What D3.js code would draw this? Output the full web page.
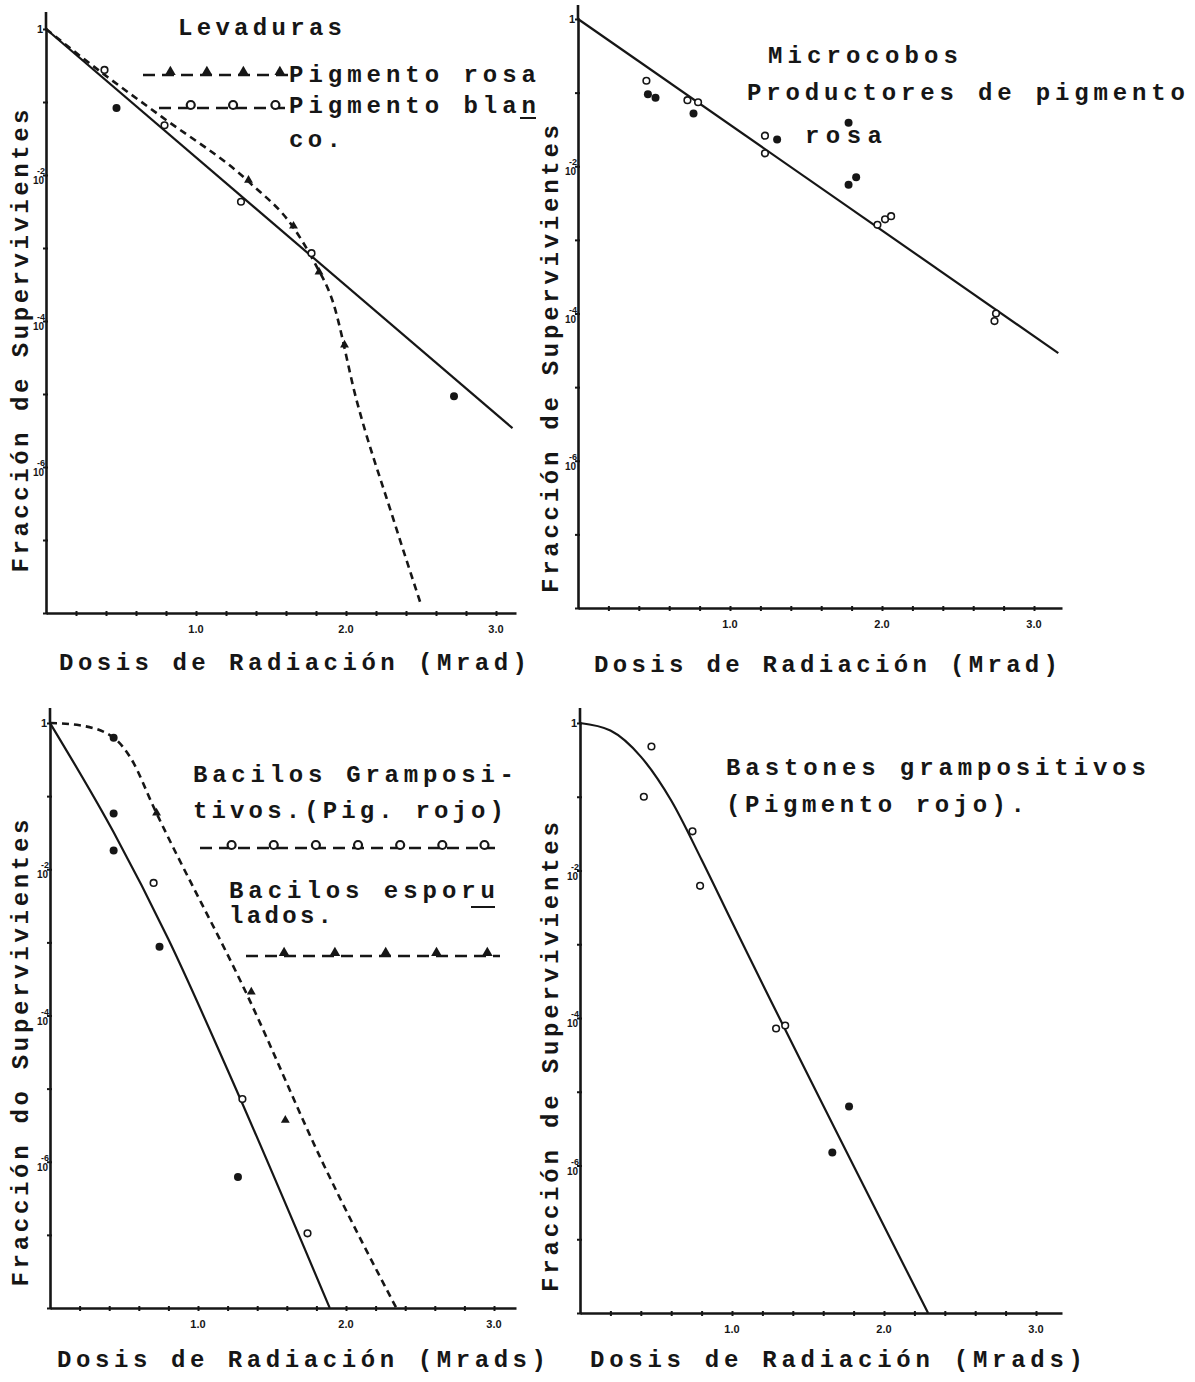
<!DOCTYPE html>
<html>
<head>
<meta charset="utf-8">
<script src="https://cdn.jsdelivr.net/npm/d3@7"></script>
<style>
  body { margin: 0; background: #fff; }
  text { fill: #161616; }
  .lbl { font-family: "Liberation Mono", monospace; font-weight: bold; }
  .tick-lbl { font-family: "Liberation Sans", Arial, sans-serif; font-weight: bold; }
</style>
</head>
<body>
<svg id="chart" width="1195" height="1382"></svg>
<script>
// ---------- data: [dose (Mrad), surviving fraction] ----------
// Levaduras
const levRosaCurve = [[0, 1], [0.41, 0.22], [0.77, 0.063], [1.36, 0.0078], [1.65, 0.0019], [1.79, 6.3e-4], [1.91, 1.9e-4], [2.07, 8.3e-6], [2.31, 2.1e-7], [2.5, 1.3e-8]];
const levBlancoFit = [[0, 1], [3.11, 3.4e-6]];
const levRosaPts = [[1.35, 0.0085], [1.65, 0.002], [1.82, 4.7e-4], [1.99, 4.7e-5]];
const levBlancoOpen = [[0.39, 0.275], [0.79, 0.048], [1.30, 0.0043], [1.77, 8.5e-4]];
const levBlancoFilled = [[0.47, 0.083], [2.72, 9.3e-6]];

// Micrococos
const micFit = [[0, 1], [3.16, 2.9e-5]];
const micOpen = [[0.45, 0.145], [0.72, 0.079], [0.79, 0.074], [1.23, 0.026], [1.23, 0.015], [1.97, 0.0016], [2.02, 0.0019], [2.06, 0.0021], [2.75, 1.0e-4], [2.74, 7.9e-5]];
const micFilled = [[0.46, 0.095], [0.51, 0.085], [0.76, 0.052], [1.31, 0.023], [1.78, 0.039], [1.83, 0.0071], [1.78, 0.0056]];

// Bacilos
const bacGramFit = [[0, 1], [0.43, 0.032], [0.8, 0.0011], [1.2, 1.8e-5], [1.89, 1e-8]];
const bacEspCurve = [[0, 1], [0.2, 0.93], [0.43, 0.63], [0.55, 0.32], [0.7, 0.071], [1.35, 1.6e-4], [1.83, 1.1e-6], [2.34, 1e-8]];
const bacGramFilled = [[0.43, 0.63], [0.43, 0.058], [0.43, 0.018], [0.74, 8.7e-4], [1.27, 6.2e-7]];
const bacGramOpen = [[0.70, 0.0065], [1.30, 7.2e-6], [1.74, 1.05e-7]];
const bacEspPts = [[0.72, 0.059], [1.36, 2.1e-4], [1.59, 3.7e-6]];

// Bastones grampositivos
const basCurve = [[0, 1], [0.2, 0.79], [0.4, 0.35], [0.6, 0.089], [0.8, 0.014], [1.0, 0.002], [2.29, 1e-8]];
const basOpen = [[0.47, 0.48], [0.42, 0.1], [0.74, 0.034], [0.79, 0.0062], [1.29, 7.2e-5], [1.35, 7.9e-5]];
const basFilled = [[1.77, 6.3e-6], [1.66, 1.5e-6]];

// ticks
const xTickValues = [0.2, 0.4, 0.6, 0.8, 1.0, 1.2, 1.4, 1.6, 1.8, 2.0, 2.2, 2.4, 2.6, 2.8, 3.0];
const xTickLabels = [1.0, 2.0, 3.0];
const yTickValues = [1, 1e-1, 1e-2, 1e-3, 1e-4, 1e-5, 1e-6, 1e-7, 1e-8];
const yTickLabels = [[1, ""], [1e-2, "-2"], [1e-4, "-4"], [1e-6, "-6"]];

const ink = "#161616";
const svg = d3.select("#chart");

// panel layout (pixels)
const panels = [
  { x0: 46, unit: 150, yTop: 29, yBot: 613, xEnd: 516, axisTop: 12,
    lines: [{ data: levBlancoFit, dash: null }, { data: levRosaCurve, dash: "7,5", curve: true }],
    open: levBlancoOpen, filled: levBlancoFilled, tri: levRosaPts },
  { x0: 578, unit: 152, yTop: 19, yBot: 608, xEnd: 1062, axisTop: 5,
    lines: [{ data: micFit, dash: null }],
    open: micOpen, filled: micFilled, tri: [] },
  { x0: 50, unit: 148, yTop: 723, yBot: 1308, xEnd: 516, axisTop: 708,
    lines: [{ data: bacGramFit, dash: null, curve: true }, { data: bacEspCurve, dash: "7,5", curve: true }],
    open: bacGramOpen, filled: bacGramFilled, tri: bacEspPts },
  { x0: 580, unit: 152, yTop: 723, yBot: 1313, xEnd: 1062, axisTop: 708,
    lines: [{ data: basCurve, dash: null, curve: true }],
    open: basOpen, filled: basFilled, tri: [] }
];

function drawPanel(p) {
  const g = svg.append("g");
  const x = d3.scaleLinear().domain([0, (p.xEnd - p.x0) / p.unit]).range([p.x0, p.xEnd]);
  const y = d3.scaleLog().domain([1, 1e-8]).range([p.yTop, p.yBot]);

  // x axis
  const xAxis = d3.axisBottom(x).tickValues(xTickValues).tickSizeInner(3).tickSizeOuter(0).tickFormat("");
  const gx = g.append("g").attr("transform", "translate(0," + p.yBot + ")").call(xAxis);
  gx.select(".domain").attr("stroke", ink).attr("stroke-width", 2.6);
  gx.selectAll(".tick line").attr("stroke", ink).attr("stroke-width", 2).attr("y1", -2);

  g.selectAll(".xlab").data(xTickLabels).enter().append("text")
    .attr("class", "tick-lbl")
    .attr("x", d => x(d)).attr("y", p.yBot + 20)
    .attr("text-anchor", "middle").attr("font-size", 11)
    .text(d => d.toFixed(1));

  // y axis
  const yAxis = d3.axisLeft(y).tickValues(yTickValues).tickSizeInner(3).tickSizeOuter(0).tickFormat("");
  const gy = g.append("g").attr("transform", "translate(" + p.x0 + ",0)").call(yAxis);
  gy.select(".domain").attr("stroke", ink).attr("stroke-width", 2.6);
  gy.selectAll(".tick line").attr("stroke", ink).attr("stroke-width", 2).attr("x1", 2).attr("x2", -3);
  g.append("line").attr("x1", p.x0).attr("x2", p.x0).attr("y1", p.axisTop).attr("y2", p.yTop)
    .attr("stroke", ink).attr("stroke-width", 2.6);

  yTickLabels.forEach(([v, e]) => {
    if (e === "") {
      g.append("text").attr("class", "tick-lbl").attr("x", p.x0 - 3).attr("y", y(v) + 4)
        .attr("text-anchor", "end").attr("font-size", 11).text("1");
    } else {
      g.append("text").attr("class", "tick-lbl").attr("x", p.x0 - 2).attr("y", y(v) + 9)
        .attr("text-anchor", "end").attr("font-size", 10).text("10");
      g.append("text").attr("class", "tick-lbl").attr("x", p.x0 - 1).attr("y", y(v) - 1)
        .attr("text-anchor", "end").attr("font-size", 9).text(e);
    }
  });

  // lines
  p.lines.forEach(l => {
    const gen = d3.line().x(d => x(d[0])).y(d => y(d[1]));
    if (l.curve) gen.curve(d3.curveMonotoneX);
    g.append("path").datum(l.data).attr("d", gen)
      .attr("fill", "none").attr("stroke", ink)
      .attr("stroke-width", l.dash ? 2.6 : 2.2)
      .attr("stroke-dasharray", l.dash);
  });

  // points
  g.selectAll(".open").data(p.open).enter().append("circle")
    .attr("cx", d => x(d[0])).attr("cy", d => y(d[1])).attr("r", 3.3)
    .attr("fill", "#fff").attr("stroke", ink).attr("stroke-width", 1.6);
  g.selectAll(".filled").data(p.filled).enter().append("circle")
    .attr("cx", d => x(d[0])).attr("cy", d => y(d[1])).attr("r", 4)
    .attr("fill", ink);
  g.selectAll(".tri").data(p.tri).enter().append("path")
    .attr("d", d3.symbol(d3.symbolTriangle, 34))
    .attr("transform", d => "translate(" + x(d[0]) + "," + y(d[1]) + ")")
    .attr("fill", ink);
}

panels.forEach(drawPanel);

// ---------- text ----------
const texts = [
  ["Levaduras", 178, 342, 35],
  ["Pigmento rosa", 289, 536, 82],
  ["Pigmento blan", 289, 536, 113],
  ["co.", 289, 341, 147],
  ["Dosis de Radiación (Mrad)", 59, 527, 670],
  ["Microcobos", 768, 958, 63],
  ["Productores de pigmento", 747, 1185, 100],
  ["rosa", 805, 882, 143],
  ["Dosis de Radiación (Mrad)", 594, 1058, 672],
  ["Bacilos Gramposi-", 193, 514, 782],
  ["tivos.(Pig. rojo)", 193, 504, 818],
  ["Bacilos esporu", 229, 495, 898],
  ["lados.", 229, 332, 923],
  ["Dosis de Radiación (Mrads)", 57, 546, 1367],
  ["Bastones grampositivos", 726, 1146, 775],
  ["(Pigmento rojo).", 726, 1025, 812],
  ["Dosis de Radiación (Mrads)", 590, 1083, 1367]
];
texts.forEach(([t, x1, x2, yb]) => {
  svg.append("text").attr("class", "lbl").attr("x", x1).attr("y", yb)
    .attr("font-size", 24).attr("textLength", x2 - x1).attr("lengthAdjust", "spacing")
    .text(t);
});

// rotated y titles: [text, baseline x, centre y, length]
const yTitles = [
  ["Fracción de Supervivientes", 28, 341, 463],
  ["Fracción de Supervivientes", 558, 359, 468],
  ["Fracción do Supervivientes", 28, 1053, 467],
  ["Fracción de Supervivientes", 558, 1057, 470]
];
yTitles.forEach(([t, bx, cy, len]) => {
  svg.append("text").attr("class", "lbl")
    .attr("transform", "translate(" + bx + "," + cy + ") rotate(-90)")
    .attr("x", -len / 2).attr("font-size", 24)
    .attr("textLength", len).attr("lengthAdjust", "spacing")
    .text(t);
});

// underlines
[[520, 536, 118], [471, 495, 907]].forEach(([a, b, yy]) => {
  svg.append("line").attr("x1", a).attr("x2", b).attr("y1", yy).attr("y2", yy)
    .attr("stroke", ink).attr("stroke-width", 2);
});

// ---------- legend keys ----------
const legendKeys = [
  { x1: 143, x2: 289, y: 72, n: 4, shape: "tri" },
  { x1: 159, x2: 286, y: 105, n: 3, shape: "circ" },
  { x1: 200, x2: 495, y: 845, n: 7, shape: "circ" },
  { x1: 246, x2: 500, y: 953, n: 5, shape: "tri" }
];
legendKeys.forEach(k => {
  svg.append("line").attr("x1", k.x1).attr("x2", k.x2).attr("y1", k.y + 3).attr("y2", k.y + 3)
    .attr("stroke", ink).attr("stroke-width", 2.4).attr("stroke-dasharray", "12,7");
  const step = (k.x2 - k.x1) / k.n;
  d3.range(k.n).forEach(i => {
    const cx = k.x1 + step * (i + 0.75);
    if (k.shape === "tri") {
      svg.append("path").attr("d", d3.symbol(d3.symbolTriangle, 50))
        .attr("transform", "translate(" + cx + "," + (k.y) + ")").attr("fill", ink);
    } else {
      svg.append("circle").attr("cx", cx).attr("cy", k.y).attr("r", 4)
        .attr("fill", "#fff").attr("stroke", ink).attr("stroke-width", 2.2);
    }
  });
});
</script>
</body>
</html>
